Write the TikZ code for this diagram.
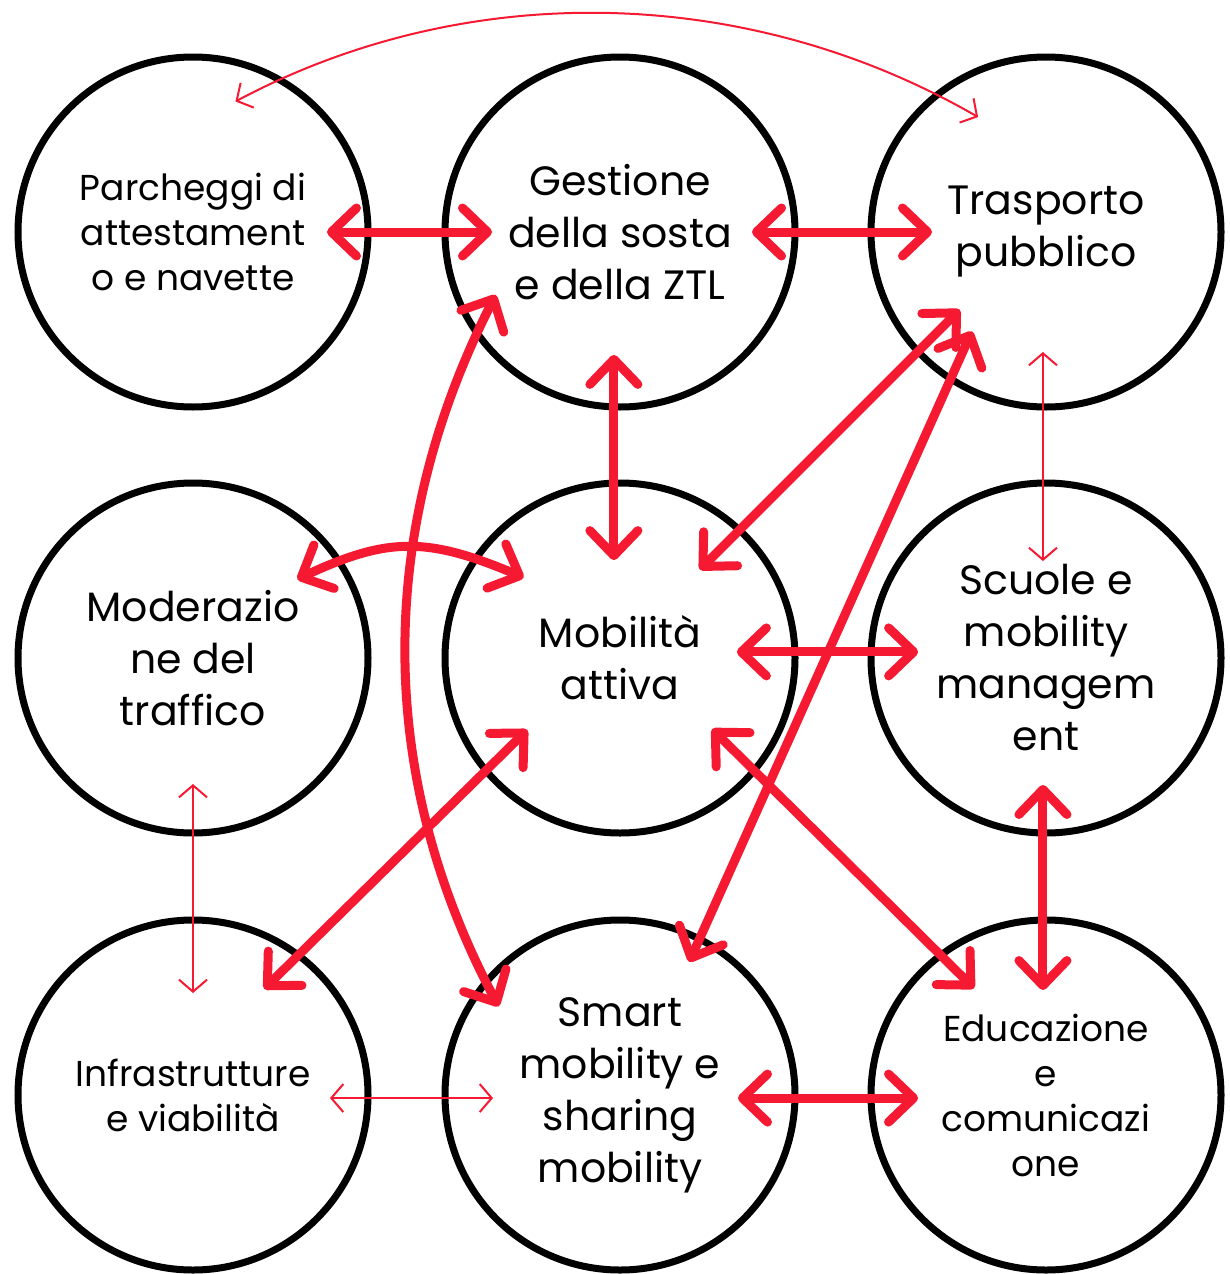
\documentclass[tikz,border=0pt]{standalone}
\usepackage{fontspec}
\setmainfont{Poppins}
\usetikzlibrary{arrows.meta}
\definecolor{arrred}{RGB}{245,25,50}

\begin{document}
\begin{tikzpicture}[x=1pt,y=-1pt,
            circ/.style={circle,draw,line width=7pt,minimum size=350pt,inner sep=0pt,outer sep=0pt,align=center},
            big/.style={font=\fontsize{41}{52}\selectfont},
            small/.style={font=\fontsize{36}{45}\selectfont},
            bigarr/.style={draw=arrred,line width=9pt,>={Straight Barb[length=25pt,width=48pt,round]},<->},
            smallarr/.style={draw=arrred,line width=2pt,>={Straight Barb[length=12pt,width=28pt]},<->}]
            \useasboundingbox (0,0) rectangle (1229,1274);
            \node[circ,small] (park) at (193,232) {Parcheggi di\\attestament\\o e navette};
            \node[circ,big] (gest) at (620,232) {Gestione\\della sosta\\e della ZTL};
            \node[circ,big] (trasp) at (1046,232) {Trasporto\\pubblico};
            \node[circ,big] (moder) at (193,658) {Moderazio\\ne del\\traffico};
            \node[circ,big] (mob) at (620,658) {Mobilità\\attiva};
            \node[circ,big] (scuole) at (1046,658) {Scuole e\\mobility\\managem\\ent};
            \node[circ,small] (infra) at (193,1095) {Infrastrutture\\e viabilità};
            \node[circ,big] (smart) at (620,1095) {Smart\\mobility e\\sharing\\mobility};
            \node[circ,small] (edu) at (1046,1095) {Educazione\\e\\comunicazi\\one};
            \draw[bigarr,shorten <=-41pt,shorten >=-47pt] (park.east) -- (gest.west);
            \draw[bigarr,shorten <=-43pt,shorten >=-61pt] (gest.east) -- (trasp.west);
            \draw[bigarr,shorten <=-52pt,shorten >=-77pt] (gest.268) -- (mob.92);
            \draw[bigarr,shorten <=-59pt,shorten >=-56pt] (trasp.223) -- (mob.47);
            \draw[bigarr,shorten <=-52pt,shorten >=-25pt] (trasp.237) -- (smart.63);
            \draw[bigarr,shorten <=-45pt,shorten >=-51pt] (moder.34) to[out=25,in=157] (mob.145);
            \draw[bigarr,looseness=0.9,shorten <=-42pt,shorten >=-27pt] (gest.215) to[out=243,in=118] (smart.140);
            \draw[bigarr,shorten <=-48pt,shorten >=-58pt] (infra.53) -- (mob.220);
            \draw[bigarr,shorten <=-59pt,shorten >=-47pt] (mob.320) -- (edu.127);
            \draw[bigarr,shorten <=-48pt,shorten >=-70pt] (scuole.269) -- (edu.91);
            \draw[bigarr,shorten <=-58pt,shorten >=-47pt] (mob.2) -- (scuole.178);
            \draw[bigarr,shorten <=-57pt,shorten >=-47pt] (smart.-1) -- (edu.181);
            \draw[smallarr,looseness=0.84,shorten <=-48pt,shorten >=-46pt] (park.61) to[out=28,in=150] (trasp.128);
            \draw[smallarr,shorten <=-49pt,shorten >=-73pt] (moder.south) -- (infra.north);
            \draw[smallarr,shorten <=-38pt,shorten >=-48pt] (infra.-1) -- (smart.181);
            \draw[smallarr,shorten <=-55pt,shorten >=-78pt] (trasp.269) -- (scuole.91);
        \end{tikzpicture}
\end{document}
